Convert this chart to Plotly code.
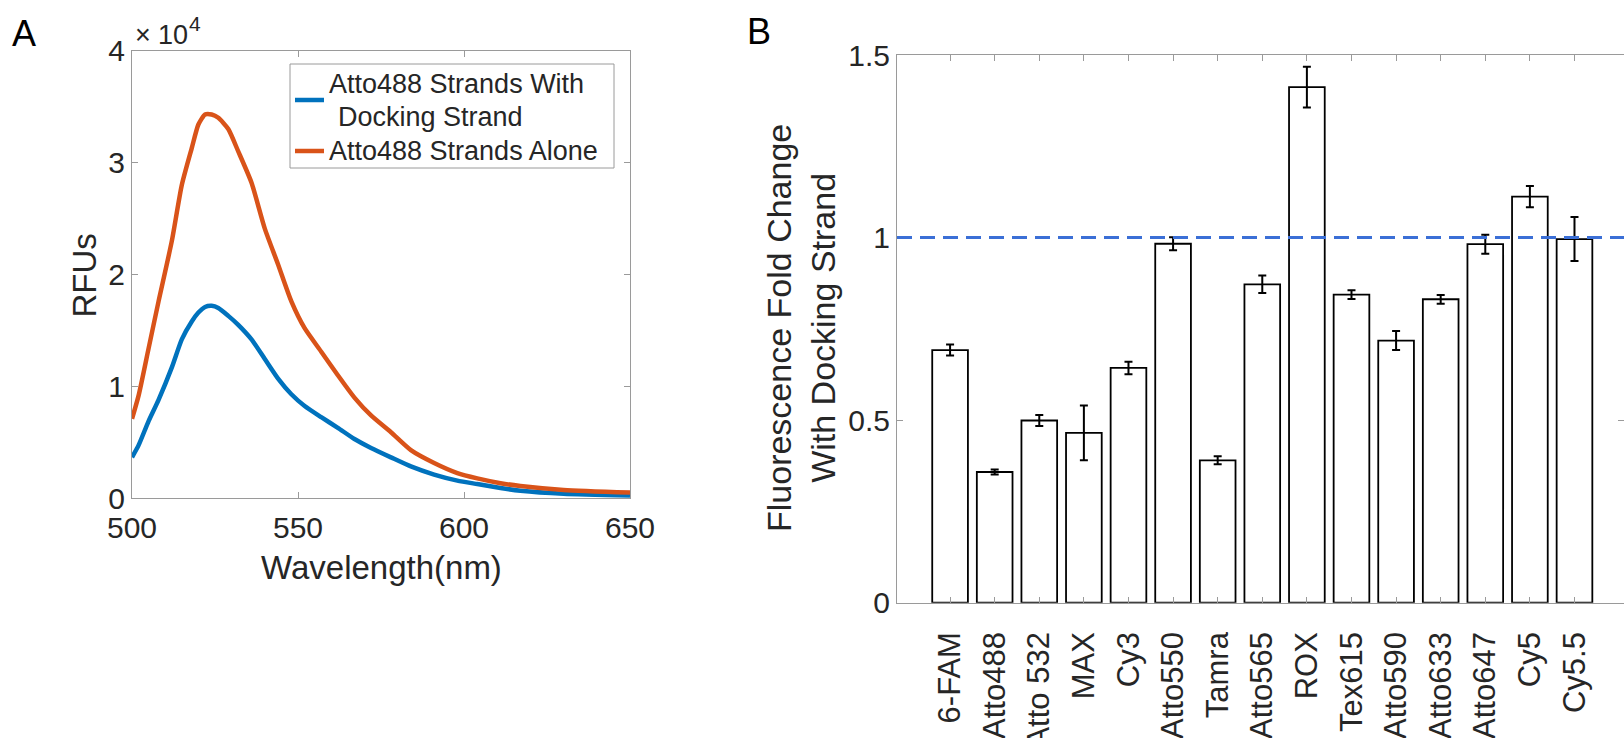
import plotly.graph_objects as go

# ---------------- data ----------------
wavelength = [500, 502, 505, 508, 512, 515, 518, 520, 522, 524, 526, 529, 532, 536, 540, 544,
              548, 552, 557, 562, 567, 572, 578, 584, 591, 598, 604, 611, 617, 630, 650]
rfu_alone = [7100, 9200, 13400, 17600, 23000, 28000, 31300, 33400, 34300, 34300, 34000, 33000,
             31000, 28200, 24100, 20900, 17600, 15200, 13100, 11000, 9000, 7400, 5900, 4300,
             3150, 2250, 1780, 1350, 1100, 750, 510]
rfu_docking = [3660, 4750, 6900, 8800, 11700, 14200, 15800, 16600, 17100, 17200, 17000, 16300,
               15500, 14200, 12450, 10700, 9300, 8250, 7250, 6300, 5300, 4500, 3660, 2850,
               2120, 1580, 1270, 920, 680, 410, 240]
series_names = ["Atto488 Strands With Docking Strand", "Atto488 Strands Alone"]

dyes = ["6-FAM", "Atto488", "Atto 532", "MAX", "Cy3", "Atto550", "Tamra", "Atto565", "ROX",
        "Tex615", "Atto590", "Atto633", "Atto647", "Cy5", "Cy5.5"]
fold_change = [0.692, 0.358, 0.499, 0.465, 0.643, 0.983, 0.390, 0.872, 1.412, 0.844, 0.718,
               0.831, 0.982, 1.112, 0.996]
fold_err = [0.015, 0.007, 0.015, 0.075, 0.017, 0.018, 0.011, 0.024, 0.056, 0.012, 0.026,
            0.012, 0.026, 0.029, 0.060]
reference_level = 1.0

a_xticks = [500, 550, 600, 650]
a_yticks = [0, 10000, 20000, 30000, 40000]
a_yticktext = ["0", "1", "2", "3", "4"]
b_yticks = [0, 0.5, 1, 1.5]
b_yticktext = ["0", "0.5", "1", "1.5"]

# ---------------- layout helpers ----------------
W, H = 1624, 738
FONT = "Liberation Sans, Arial, Helvetica, sans-serif"
AXC = "#9a9a9a"
TXT = "#262626"
BLUE = "#0072BD"
ORANGE = "#D95319"


def px(x):
    return x / W


def py(y):
    return 1 - y / H


fig = go.Figure()

fig.add_trace(go.Scatter(
    x=wavelength, y=rfu_docking, mode="lines",
    line=dict(color=BLUE, width=4.5, shape="spline", smoothing=0.6),
    name=series_names[0], xaxis="x", yaxis="y", showlegend=False))
fig.add_trace(go.Scatter(
    x=wavelength, y=rfu_alone, mode="lines",
    line=dict(color=ORANGE, width=4.5, shape="spline", smoothing=0.6),
    name=series_names[1], xaxis="x", yaxis="y", showlegend=False))

fig.add_trace(go.Bar(
    x=dyes, y=fold_change, width=0.8,
    marker=dict(color="white", line=dict(color="black", width=1.8)),
    error_y=dict(type="data", array=fold_err, color="black", thickness=2, width=4),
    xaxis="x2", yaxis="y2", showlegend=False))

axis_common = dict(showline=True, linecolor=AXC, linewidth=1, mirror="ticks",
                   ticks="inside", ticklen=6, tickcolor=AXC, tickwidth=1,
                   showgrid=False, zeroline=False, automargin=False,
                   tickfont=dict(family=FONT, size=30, color=TXT))

fig.update_layout(
    width=W, height=H, autosize=False,
    margin=dict(l=0, r=0, t=0, b=0, pad=0, autoexpand=False),
    paper_bgcolor="white", plot_bgcolor="white",
    font=dict(family=FONT, color=TXT), showlegend=False,
    xaxis=dict(domain=[px(132), px(630)], range=[500, 650], tickvals=a_xticks,
               anchor="y", ticklabelstandoff=3, **axis_common),
    yaxis=dict(domain=[py(498.3), py(50.7)], range=[0, 40000], tickvals=a_yticks,
               ticktext=a_yticktext, anchor="x", ticklabelstandoff=0, **axis_common),
    xaxis2=dict(domain=[px(897), 1.0], range=[-1.19, 15.11], type="category",
                tickangle=-90, anchor="y2", ticklabelstandoff=16,
                **{**axis_common, "tickfont": dict(family=FONT, size=31, color=TXT)}),
    yaxis2=dict(domain=[py(602.7), py(55)], range=[0, 1.5], tickvals=b_yticks,
                ticktext=b_yticktext, anchor="x2", ticklabelstandoff=0, **axis_common),
    bargap=0.2,
)

# reference line at fold change = 1
fig.add_shape(type="line", xref="x2 domain", x0=0, x1=1, yref="y2",
              y0=reference_level, y1=reference_level,
              line=dict(color="#3b6fd6", width=3, dash="15px,8px"), layer="above")

# legend box for panel A (MATLAB style)
fig.add_shape(type="rect", xref="paper", yref="paper", x0=px(290), x1=px(614),
              y0=py(168), y1=py(64), line=dict(color=AXC, width=1), fillcolor="white",
              layer="above")
for color, yc in [(BLUE, 100), (ORANGE, 151)]:
    fig.add_shape(type="line", xref="paper", yref="paper", x0=px(295), x1=px(324),
                  y0=py(yc), y1=py(yc), line=dict(color=color, width=4.5), layer="above")

annots = [
    dict(text="A", x=px(24.3), y=py(33.5), font=dict(size=36, color="black")),
    dict(text="B", x=px(758.7), y=py(31.8), font=dict(size=36, color="black")),
    dict(text="×", x=px(134), y=py(35), xanchor="left", font=dict(size=27, color=TXT)),
    dict(text="10", x=px(157), y=py(34.6), xanchor="left", font=dict(size=27, color=TXT)),
    dict(text="4", x=px(188), y=py(24), xanchor="left", font=dict(size=21, color=TXT)),
    dict(text="Wavelength(nm)", x=px(381.5), y=py(567), font=dict(size=33, color=TXT)),
    dict(text="RFUs", x=px(84), y=py(275.5), textangle=-90, font=dict(size=33, color=TXT)),
    dict(text="Fluorescence Fold Change<br>With Docking Strand", x=px(801), y=py(328),
         textangle=-90, font=dict(size=34, color=TXT)),
    dict(text="Atto488 Strands With", x=px(328), y=py(84), xanchor="left",
         font=dict(size=27, color=TXT)),
    dict(text="Docking Strand", x=px(336.5), y=py(116.6), xanchor="left",
         font=dict(size=27, color=TXT)),
    dict(text="Atto488 Strands Alone", x=px(328), y=py(151), xanchor="left",
         font=dict(size=27, color=TXT)),
]
for a in annots:
    a.setdefault("xanchor", "center")
    a["font"]["family"] = FONT
    fig.add_annotation(xref="paper", yref="paper", yanchor="middle", showarrow=False,
                       borderpad=0, **a)

fig.write_html("out.html", post_script="document.body.style.margin='0';")
